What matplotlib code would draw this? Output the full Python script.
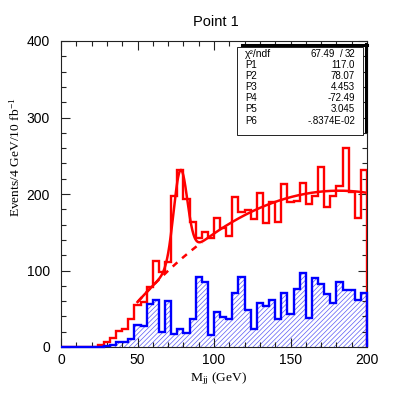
import numpy as np
import matplotlib
matplotlib.use('Agg')
import matplotlib.pyplot as plt
from matplotlib.patches import Rectangle
from matplotlib.lines import Line2D
from matplotlib.ticker import MultipleLocator

plt.rcParams['font.family'] = ['Liberation Sans', 'DejaVu Sans']
plt.rcParams['mathtext.fontset'] = 'custom'
plt.rcParams['mathtext.rm'] = 'Liberation Serif'
plt.rcParams['mathtext.it'] = 'Liberation Serif:italic'
plt.rcParams['hatch.linewidth'] = 0.5

# 4 GeV bins from 0 to 200
bin_edges = np.arange(0, 204, 4)

# signal + background (red), counts per bin
red_counts = [0, 0, 0, 0, 0, 0, 2, 6, 12, 21,
              24, 36, 55, 59, 79, 113, 98, 111, 197, 231,
              194, 163, 142, 150, 142, 168, 155, 145, 196, 176,
              179, 167, 201, 162, 189, 163, 213, 189, 191, 215,
              187, 198, 235, 183, 198, 210, 260, 203, 168, 231]

# background only (blue, hatched)
blue_counts = [0, 0, 0, 0, 0, 0, 0, 1, 2, 7,
               7, 11, 29, 27, 56, 62, 19, 60, 17, 24,
               18, 37, 92, 85, 16, 46, 39, 37, 70, 91,
               49, 24, 57, 54, 61, 36, 71, 43, 76, 97,
               38, 90, 82, 69, 57, 85, 74, 75, 62, 71]

# fit: gaussian + 2nd order polynomial
par_names = ['P1', 'P2', 'P3', 'P4', 'P5', 'P6']
par_values = [117.0, 78.07, 4.453, -72.49, 3.045, -0.8374e-02]
par_labels = ['117.0', '78.07', '4.453', '-72.49', '3.045', '-.8374E-02']
chi2, ndf = '67.49', '32'

fit_range = (50, 200)
bkg_range = (50, 92)


def background(x, p):
    return p[3] + p[4] * x + p[5] * x ** 2


def full_fit(x, p):
    return p[0] * np.exp(-0.5 * ((x - p[1]) / p[2]) ** 2) + background(x, p)


W = H = 408
fig = plt.figure(figsize=(W / 100, H / 100), dpi=100)
ax = fig.add_axes([61 / W, 1 - 347 / H, 306 / W, 306 / H])

ax.stairs(blue_counts, bin_edges, fill=True, facecolor='none',
          edgecolor='#5c5cf5', hatch='///////', linewidth=0, zorder=1)
ax.stairs(red_counts, bin_edges, color='#ff0000', linewidth=1.7, zorder=2)
ax.stairs(blue_counts, bin_edges, color='#0000ff', linewidth=1.7,
          zorder=3, clip_on=False)

xf = np.linspace(fit_range[0], fit_range[1], 600)
ax.plot(xf, full_fit(xf, par_values), color='#ff0000', linewidth=1.8, zorder=4)
xb = np.linspace(bkg_range[0], bkg_range[1], 200)
ax.plot(xb, background(xb, par_values), color='#ff0000', linewidth=1.8,
        linestyle=(0, (2.5, 2.5)), zorder=4)

ax.set_xlim(0, 200)
ax.set_ylim(0, 400)
ax.xaxis.set_major_locator(MultipleLocator(50))
ax.xaxis.set_minor_locator(MultipleLocator(10))
ax.yaxis.set_major_locator(MultipleLocator(100))
ax.yaxis.set_minor_locator(MultipleLocator(20))
ax.tick_params(which='both', direction='in', top=True, right=True,
               color='#222222', width=0.8, labelsize=10)
ax.tick_params(which='major', length=6.5)
ax.tick_params(which='minor', length=3.3)
ax.tick_params(axis='x', pad=4)
ax.tick_params(axis='y', pad=8)
for s in ax.spines.values():
    s.set_linewidth(0.8)
    s.set_color('#222222')

fig.text(216 / W, 1 - 22 / H, 'Point 1', ha='center', va='center', fontsize=10.5)
fig.text(15 / W, 1 - 97 / H, r'Events/4 GeV/10 fb$^{-1}$', rotation=90,
         ha='center', va='top', fontsize=9.7, family='Liberation Serif')
fig.text(247 / W, 1 - 381 / H, r'M$_{\rm jj}$ (GeV)', ha='right',
         va='baseline', fontsize=9.7, family='Liberation Serif')

# statistics box
fig.patches.append(Rectangle((236.5 / W, 1 - 135 / H), 126.5 / W, 88 / H,
                             transform=fig.transFigure, facecolor='white',
                             edgecolor='#222222', linewidth=0.7, zorder=5))
fig.lines.append(Line2D([242 / W, 366.5 / W], [1 - 45 / H, 1 - 45 / H],
                        transform=fig.transFigure, color='black', linewidth=2.2, zorder=6))
fig.lines.append(Line2D([365.5 / W, 365.5 / W], [1 - 44 / H, 1 - 131 / H],
                        transform=fig.transFigure, color='black', linewidth=2.2, zorder=6))

row_y = [54, 65, 76, 87, 98, 109, 120.5]
fs = 7
fig.text(245 / W, 1 - row_y[0] / H, 'χ²/ndf', ha='left', va='center', fontsize=fs + 0.5, zorder=7)
fig.text(335 / W, 1 - row_y[0] / H, chi2, ha='right', va='center', fontsize=fs, zorder=7)
fig.text(341.5 / W, 1 - row_y[0] / H, '/', ha='center', va='center', fontsize=fs, zorder=7)
fig.text(355 / W, 1 - row_y[0] / H, ndf, ha='right', va='center', fontsize=fs, zorder=7)
for name, label, yy in zip(par_names, par_labels, row_y[1:]):
    fig.text(245 / W, 1 - yy / H, name, ha='left', va='center', fontsize=fs, zorder=7)
    fig.text(355 / W, 1 - yy / H, label, ha='right', va='center', fontsize=fs, zorder=7)

fig.savefig('out.png', dpi=100)
